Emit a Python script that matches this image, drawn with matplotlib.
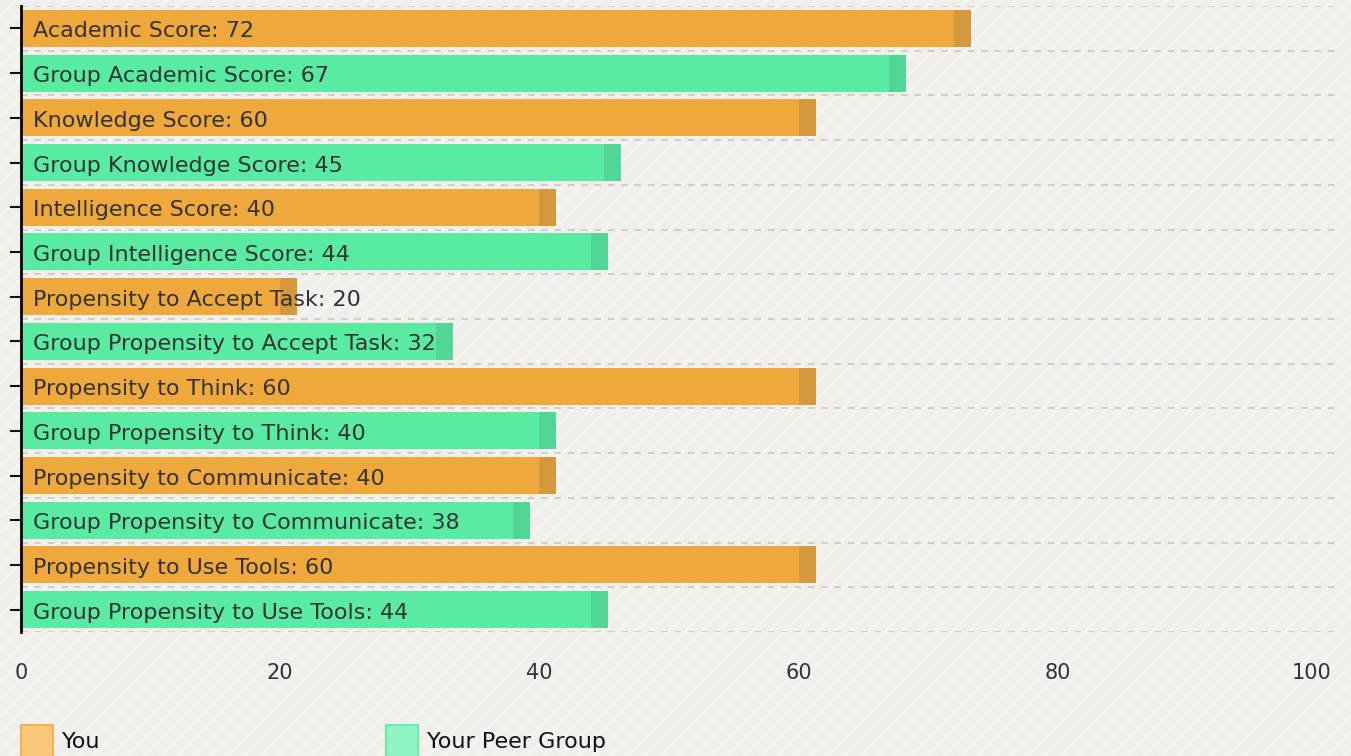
import matplotlib
matplotlib.use("Agg")
import matplotlib.pyplot as plt
from matplotlib.patches import Rectangle
import matplotlib.transforms as mtransforms
import numpy as np

categories = [
    "Academic Score", "Group Academic Score",
    "Knowledge Score", "Group Knowledge Score",
    "Intelligence Score", "Group Intelligence Score",
    "Propensity to Accept Task", "Group Propensity to Accept Task",
    "Propensity to Think", "Group Propensity to Think",
    "Propensity to Communicate", "Group Propensity to Communicate",
    "Propensity to Use Tools", "Group Propensity to Use Tools",
]
values = [72, 67, 60, 45, 40, 44, 20, 32, 60, 40, 40, 38, 60, 44]
series = ["You", "Group", "You", "Group", "You", "Group", "You", "Group",
          "You", "Group", "You", "Group", "You", "Group"]
xticks = [0, 20, 40, 60, 80, 100]
legend_labels = ["You", "Your Peer Group"]

colors = {"You": "#EFA83B", "Group": "#5AEBA2"}
cap_colors = {"You": "#D6983D", "Group": "#52D695"}
leg_fill = {"You": "#F8C878", "Group": "#90F5C4"}
leg_edge = {"You": "#F3B24E", "Group": "#66EDAA"}

W, H = 1351, 756
fig = plt.figure(figsize=(W / 100, H / 100), dpi=100)
bg = "#F0EFEB"
fig.patch.set_facecolor(bg)
plt.rcParams['hatch.linewidth'] = 2.5
fig.add_artist(Rectangle((0, 0), 1, 1, transform=fig.transFigure,
                         facecolor="none", edgecolor="#F4F3F0",
                         hatch="//", linewidth=0, zorder=0))

left, right, top, bottom = 21, 1335, 6, 632
ax = fig.add_axes([left / W, 1 - bottom / H, (right - left) / W, (bottom - top) / H])
ax.set_facecolor("none")

xmax = 101.4
ax.set_xlim(0, xmax)
n = len(categories)
ax.set_ylim(n - 0.5, -0.5)
px = xmax / (right - left)
cap_w = 17 * px

y = np.arange(n)
bar_h = 0.83
for i, (v, s) in enumerate(zip(values, series)):
    ax.barh(i, v, height=bar_h, color=colors[s], linewidth=0, zorder=2)
    ax.barh(i, cap_w, left=v, height=bar_h, color=cap_colors[s], linewidth=0, zorder=2)
    ax.text(12 * px, i + 0.07, f"{categories[i]}: {v}", va="center", ha="left",
            fontsize=16, color="#333333", zorder=4)

# gridlines between rows
ax.set_yticks(y)
ax.set_yticklabels([])
ax.set_yticks(np.arange(-0.5, n, 1.0), minor=True)
ax.grid(True, which="minor", axis="y", color="#C8C8C8", linestyle=(0, (4, 4)),
        linewidth=1.2, zorder=1)
ax.grid(False, which="major")
ax.tick_params(axis="y", which="major", length=8, width=1.5, color="#111111", direction="out")
ax.tick_params(axis="y", which="minor", length=0)

ax.set_xticks(xticks)
ax.set_xticklabels([str(t) for t in xticks])
ax.tick_params(axis="x", length=0, pad=22, labelsize=15, labelcolor="#333333")
last = ax.get_xticklabels()[-1]
last.set_transform(last.get_transform() +
                   mtransforms.ScaledTranslation(-5 / 100, 0, fig.dpi_scale_trans))

for sp in ["top", "right", "bottom"]:
    ax.spines[sp].set_visible(False)
ax.spines["left"].set_color("#000000")
ax.spines["left"].set_linewidth(2)
ax.spines["left"].set_zorder(5)

# legend
leg_x = [21, 386]
for lx, lab, key in zip(leg_x, legend_labels, ["You", "Group"]):
    fig.add_artist(Rectangle((lx / W, 1 - 760 / H), 32 / W, 35 / H,
                             transform=fig.transFigure, facecolor=leg_fill[key],
                             edgecolor=leg_edge[key], linewidth=1.5, zorder=3))
    fig.text((lx + 41) / W, 1 - 742 / H, lab, fontsize=16, color="#111111",
             va="center", ha="left")

fig.savefig("out.png", dpi=100, facecolor=bg)
